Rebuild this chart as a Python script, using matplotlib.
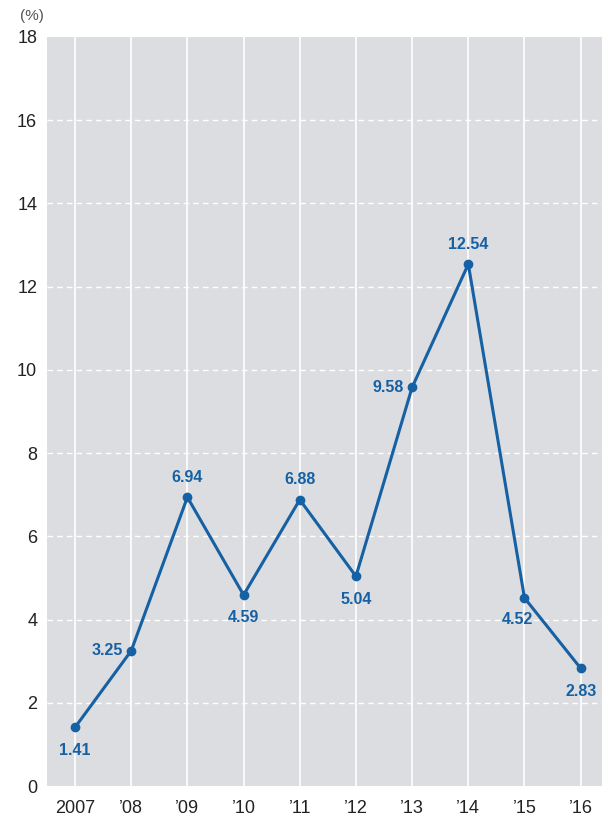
import matplotlib.pyplot as plt

# データ
yillar = ["2007", "’08", "’09", "’10", "’11", "’12", "’13", "’14", "’15", "’16"]
degerler = [1.41, 3.25, 6.94, 4.59, 6.88, 5.04, 9.58, 12.54, 4.52, 2.83]
# etiket konumları (aşağı / sol / yukarı)
konumlar = ["alt", "sol", "ust", "alt", "ust", "alt", "sol", "ust", "solalt", "alt"]

mavi = "#1660a4"

plt.rcParams['font.family'] = ['Liberation Sans', 'DejaVu Sans']
fig = plt.figure(figsize=(6.02, 8.21), dpi=100)
ax = fig.add_axes([0.078, 0.0426, 0.922, 0.9124])
ax.set_facecolor("#dcdde0")

x = list(range(len(yillar)))
ax.plot(x, degerler, color=mavi, linewidth=2.2, marker="o", markersize=6, zorder=3)

ofsetler = {"alt": (0, -11, "center", "top"),
            "ust": (0, 9, "center", "bottom"),
            "sol": (-6, 0, "right", "center"),
            "solalt": (-5, -10, "center", "top")}
for xi, d, k in zip(x, degerler, konumlar):
    dx, dy, ha, va = ofsetler[k]
    ax.annotate(f"{d:.2f}", (xi, d), xytext=(dx, dy), textcoords="offset points",
                ha=ha, va=va, color=mavi, fontsize=11.5, fontweight="bold")

ax.set_xlim(-0.5, 9.38)
ax.set_ylim(0, 18)
ax.set_yticks(range(0, 19, 2))
ax.set_xticks(x)
ax.set_xticklabels(yillar)
ax.tick_params(length=0, labelsize=13, colors="#222222")
ax.tick_params(axis="x", pad=10)
ax.tick_params(axis="y", pad=7)

# ızgara çizgileri
for yv in range(2, 18, 2):
    ax.axhline(yv, color="white", linestyle=(0, (4, 3)), linewidth=1, zorder=1)
for xi in x:
    ax.axvline(xi, color="white", linewidth=1.2, zorder=1)
for s in ax.spines.values():
    s.set_visible(False)

fig.text(0.033, 0.98, "(%)", fontsize=11, color="#555555", ha="left", va="center")

plt.savefig("out.png", dpi=100)
